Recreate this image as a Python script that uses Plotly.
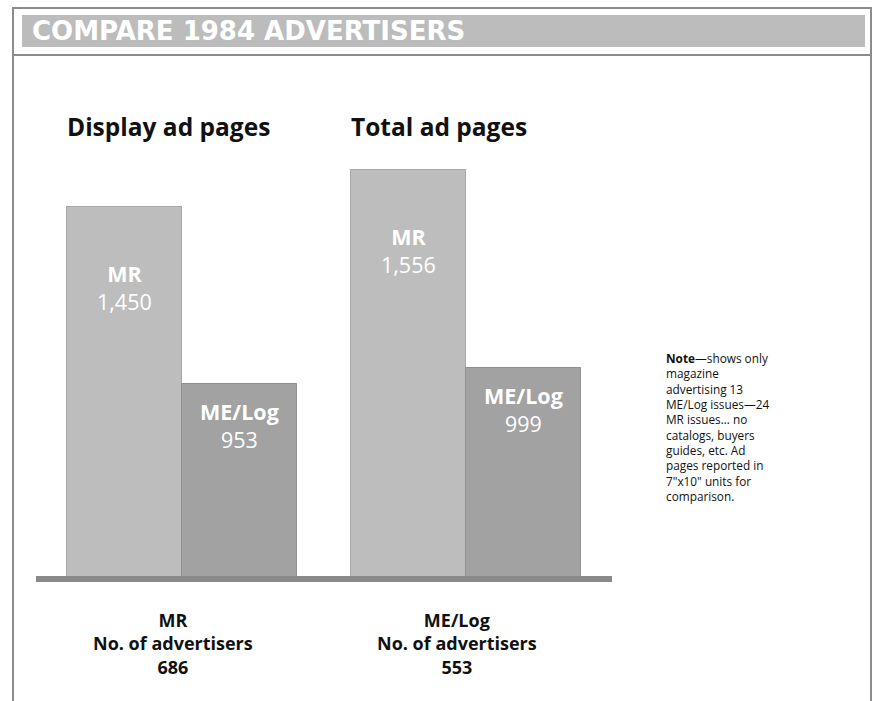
import plotly.graph_objects as go

# ---- data ----
groups = ["Display ad pages", "Total ad pages"]
mr_pages = [1450, 1556]
melog_pages = [953, 999]
mr_label = "MR"
melog_label = "ME/Log"
advertiser_pubs = ["MR", "ME/Log"]
advertiser_counts = [686, 553]
title_text = "COMPARE 1984 ADVERTISERS"
note_lines = [
    "<b>Note</b>—shows only",
    "magazine",
    "advertising 13",
    "ME/Log issues—24",
    "MR issues... no",
    "catalogs, buyers",
    "guides, etc. Ad",
    "pages reported in",
    "7\"x10\" units for",
    "comparison.",
]

W, H = 878, 701
L, R, T, B = 40, 270, 100, 125
PW, PH = W - L - R, H - T - B


def px(x):
    return (x - L) / PW


def py(y):
    return (H - B - y) / PH


FONT = "Open Sans"
MR_COL = "#bdbdbd"
ME_COL = "#a2a2a2"
BW = 0.405
xs = list(range(len(groups)))

fig = go.Figure()
fig.add_trace(go.Bar(x=xs, y=mr_pages, width=BW, offset=-BW, marker=dict(color=MR_COL, line=dict(color="#a6a6a6", width=1)), name=mr_label, hoverinfo="y"))
fig.add_trace(go.Bar(x=xs, y=melog_pages, width=BW, offset=0, marker=dict(color=ME_COL, line=dict(color="#8f8f8f", width=1)), name=melog_label, hoverinfo="y"))

ann = []
for i, g in enumerate(groups):
    ann.append(dict(x=i - BW / 2, y=mr_pages[i], xref="x", yref="y", text=f"<b>{mr_label}</b><br>{mr_pages[i]:,}",
                    showarrow=False, yanchor="top", yshift=-50, font=dict(family=FONT, size=21.5, color="white")))
    ann.append(dict(x=i + BW / 2, y=melog_pages[i], xref="x", yref="y", text=f"<b>{melog_label}</b><br>{melog_pages[i]:,}",
                    showarrow=False, yanchor="top", yshift=-11, font=dict(family=FONT, size=21.5, color="white")))
    # heading
    ann.append(dict(x=i - BW, y=py(126), xref="x", yref="paper", text=f"<b>{g}</b>", showarrow=False,
                    xanchor="left", yanchor="middle", xshift=-2, font=dict(family=FONT, size=24.5, color="#111")))
    # advertisers block
    ann.append(dict(x=i, y=py(606), xref="x", yref="paper",
                    text=f"<b>{advertiser_pubs[i]}<br>No. of advertisers<br>{advertiser_counts[i]}</b>",
                    showarrow=False, xanchor="center", yanchor="top", xshift=-9,
                    font=dict(family=FONT, size=18, color="#111")))

ann.append(dict(x=px(664), y=py(348), xref="paper", yref="paper", text="<br>".join(note_lines), showarrow=False,
                xanchor="left", yanchor="top", align="left", font=dict(family=FONT, size=11.8, color="#111")))
ann.append(dict(x=px(30), y=py(31), xref="paper", yref="paper", text=f"<b>{title_text}</b>", showarrow=False,
                xanchor="left", yanchor="middle", font=dict(family="DejaVu Sans", size=26, color="white")))

shapes = [
    # outer frame
    dict(type="rect", xref="paper", yref="paper", x0=px(13), x1=px(871), y0=py(710), y1=py(8),
         line=dict(color="#8c8c8c", width=2), layer="below"),
    # title band
    dict(type="rect", xref="paper", yref="paper", x0=px(22), x1=px(865), y0=py(47), y1=py(15),
         fillcolor="#bcbcbc", line=dict(width=0), layer="below"),
    # divider
    dict(type="line", xref="paper", yref="paper", x0=px(13), x1=px(871), y0=py(55), y1=py(55),
         line=dict(color="#8c8c8c", width=2)),
    # baseline
    dict(type="rect", xref="paper", yref="paper", x0=px(36), x1=px(612), y0=py(582), y1=py(576),
         fillcolor="#8a8a8a", line=dict(width=0)),
]

fig.update_layout(
    width=W, height=H, margin=dict(l=L, r=R, t=T, b=B),
    paper_bgcolor="white", plot_bgcolor="white", showlegend=False,
    xaxis=dict(range=[-0.5, len(groups) - 0.5], visible=False, fixedrange=True),
    yaxis=dict(range=[414, 414 + PH / 0.3557], visible=False, fixedrange=True),
    annotations=ann, shapes=shapes, bargap=0,
)

fig.write_html("out.html", config={"displayModeBar": False},
               post_script="document.body.style.margin='0px';document.body.style.overflow='hidden';")
